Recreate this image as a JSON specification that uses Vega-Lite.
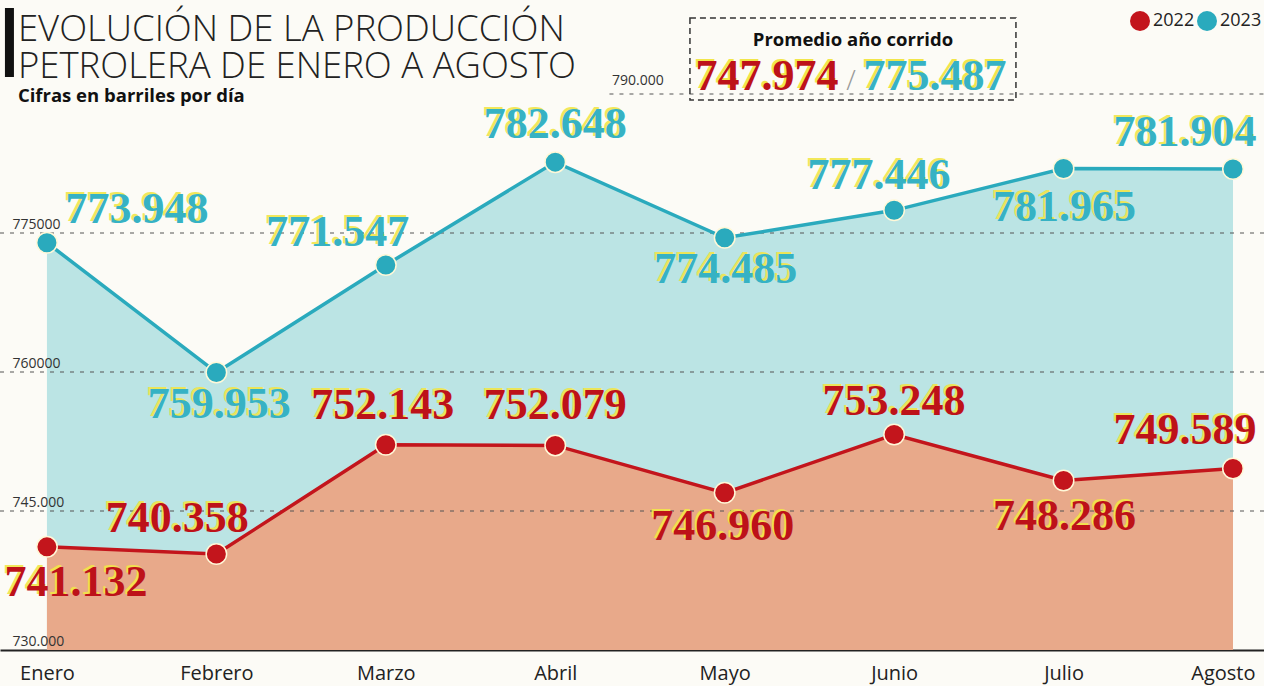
{
  "$schema": "https://vega.github.io/schema/vega-lite/v6.json",
  "width": 1264,
  "height": 650,
  "autosize": {"type": "none"},
  "padding": {"top": 0, "left": 0, "right": 0, "bottom": 36},
  "background": "#fcfbf6",
  "config": {
    "view": {"stroke": null},
    "locale": {"number": {"decimal": ",", "thousands": ".", "grouping": [3], "currency": ["", ""]}},
    "font": "Open Sans"
  },
  "data": {
    "values": [
      {"mes": "Enero", "n": 0, "anio": "2022", "valor": 741132},
      {"mes": "Febrero", "n": 1, "anio": "2022", "valor": 740358},
      {"mes": "Marzo", "n": 2, "anio": "2022", "valor": 752143},
      {"mes": "Abril", "n": 3, "anio": "2022", "valor": 752079},
      {"mes": "Mayo", "n": 4, "anio": "2022", "valor": 746960},
      {"mes": "Junio", "n": 5, "anio": "2022", "valor": 753248},
      {"mes": "Julio", "n": 6, "anio": "2022", "valor": 748286},
      {"mes": "Agosto", "n": 7, "anio": "2022", "valor": 749589},
      {"mes": "Enero", "n": 0, "anio": "2023", "valor": 773948},
      {"mes": "Febrero", "n": 1, "anio": "2023", "valor": 759953},
      {"mes": "Marzo", "n": 2, "anio": "2023", "valor": 771547},
      {"mes": "Abril", "n": 3, "anio": "2023", "valor": 782648},
      {"mes": "Mayo", "n": 4, "anio": "2023", "valor": 774485},
      {"mes": "Junio", "n": 5, "anio": "2023", "valor": 777446},
      {"mes": "Julio", "n": 6, "anio": "2023", "valor": 781965},
      {"mes": "Agosto", "n": 7, "anio": "2023", "valor": 781904}
    ]
  },
  "encoding": {
    "x": {
      "field": "n", "type": "quantitative",
      "scale": {"domain": [-0.277, 7.183], "nice": false, "zero": false},
      "axis": {
        "title": null, "values": [0, 1, 2, 3, 4, 5, 6, 7],
        "labelExpr": "['Enero','Febrero','Marzo','Abril','Mayo','Junio','Julio','Agosto'][datum.value]",
        "grid": false, "ticks": false, "domainColor": "#222", "domainWidth": 2,
        "labelFont": "Open Sans", "labelFontSize": 20, "labelColor": "#222", "labelPadding": 13,
        "labelFlush": 40, "labelFlushOffset": 22
      }
    },
    "y": {
      "field": "valor", "type": "quantitative",
      "scale": {"domain": [730000, 800144], "nice": false, "zero": false},
      "axis": {
        "title": null, "values": [730000, 745000, 760000, 775000, 790000],
        "labelExpr": "datum.value==790000 ? '' : datum.value==775000 ? '775000' : datum.value==760000 ? '760000' : datum.value==745000 ? '745.000' : '730.000'",
        "grid": false, "ticks": false, "tickSize": 0, "domain": false, "zindex": 1,
        "labelAlign": "left", "labelBaseline": "bottom", "labelPadding": -12, "labelOffset": -2,
        "labelFont": "Open Sans", "labelFontSize": 14, "labelColor": "#333"
      }
    }
  },
  "layer": [
    {
      "transform": [{"filter": "datum.anio == '2023'"}],
      "mark": {"type": "area", "color": "#bbe4e4", "opacity": 1},
      "encoding": {"y2": {"datum": 730000}}
    },
    {
      "transform": [{"filter": "datum.anio == '2022'"}],
      "mark": {"type": "area", "color": "#e8a98a", "opacity": 1},
      "encoding": {"y2": {"datum": 730000}}
    },
    {
      "data": {"values": [{"g": 745000}, {"g": 760000}, {"g": 775000}]},
      "mark": {"type": "rule", "color": "#555", "strokeWidth": 1, "strokeDash": [4, 6]},
      "encoding": {"x": null, "y": {"field": "g", "type": "quantitative"}}
    },
    {
      "data": {"values": [{"g": 790000, "p": 3.32, "p2": 7.183}]},
      "mark": {"type": "rule", "color": "#555", "strokeWidth": 1, "strokeDash": [4, 6]},
      "encoding": {"x": {"field": "p", "type": "quantitative"}, "x2": {"field": "p2"}, "y": {"field": "g", "type": "quantitative"}}
    },
    {
      "mark": {"type": "line", "strokeWidth": 3.5},
      "encoding": {
        "color": {"field": "anio", "type": "nominal", "scale": {"domain": ["2022", "2023"], "range": ["#c3151c", "#2aaabd"]}}
      }
    },
    {
      "mark": {"type": "point", "filled": true, "size": 420, "opacity": 1, "stroke": "#fff8d8", "strokeWidth": 1.5},
      "encoding": {
        "color": {
          "field": "anio", "type": "nominal",
          "legend": {
            "orient": "none", "legendX": 1130, "legendY": 11, "direction": "horizontal", "title": null,
            "symbolSize": 400, "symbolType": "circle", "symbolStrokeWidth": 0, "labelFontSize": 18,
            "labelFont": "Open Sans", "labelColor": "#222", "columnPadding": 2, "labelOffset": 3
          }
        }
      }
    },
    {
      "mark": {
        "type": "text", "font": "Liberation Serif", "fontWeight": "bold", "fontSize": 44,
        "align": "center", "baseline": "middle", "color": "#f2e64a", "opacity": 0.9,
        "dx": {"expr": "datum.anio=='2022' ? [29,-39,-3,0,-2,0,1,-48][datum.n]-2 : [90,3,-48,0,1,-15,1,-48][datum.n]-2"},
        "dy": {"expr": "datum.anio=='2022' ? [36,-35,-39,-39,34,-33,36,-37][datum.n]-2 : [-33,33,-32,-37,32,-34,40,-36][datum.n]-2"}
      },
      "encoding": {"text": {"field": "valor", "type": "quantitative", "format": ",.0f"}}
    },
    {
      "transform": [{"filter": "datum.anio == '2022'"}],
      "mark": {
        "type": "text", "font": "Liberation Serif", "fontWeight": "bold", "fontSize": 44,
        "align": "center", "baseline": "middle", "color": "#bd1219",
        "dx": {"expr": "[29,-39,-3,0,-2,0,1,-48][datum.n]"},
        "dy": {"expr": "[36,-35,-39,-39,34,-33,36,-37][datum.n]"}
      },
      "encoding": {"text": {"field": "valor", "type": "quantitative", "format": ",.0f"}}
    },
    {
      "transform": [{"filter": "datum.anio == '2023'"}],
      "mark": {
        "type": "text", "font": "Liberation Serif", "fontWeight": "bold", "fontSize": 44,
        "align": "center", "baseline": "middle", "color": "#36b2c4",
        "dx": {"expr": "[90,3,-48,0,1,-15,1,-48][datum.n]"},
        "dy": {"expr": "[-33,33,-32,-37,32,-34,40,-36][datum.n]"}
      },
      "encoding": {"text": {"field": "valor", "type": "quantitative", "format": ",.0f"}}
    },
    {
      "data": {"values": [{"p": -0.2213, "a": 799281, "b": 791835}]},
      "mark": {"type": "rule", "color": "#111", "strokeWidth": 9},
      "encoding": {"x": {"field": "p", "type": "quantitative"}, "y": {"field": "a", "type": "quantitative"}, "y2": {"field": "b"}}
    },
    {
      "data": {"values": [{"p": -0.1712, "v": 795719}]},
      "mark": {
        "type": "text", "text": ["EVOLUCIÓN DE LA PRODUCCIÓN", "PETROLERA DE ENERO A AGOSTO"],
        "font": "Open Sans", "fontWeight": 300, "fontSize": 36.5, "lineHeight": 37,
        "align": "left", "baseline": "alphabetic", "color": "#222"
      },
      "encoding": {"x": {"field": "p", "type": "quantitative"}, "y": {"field": "v", "type": "quantitative"}}
    },
    {
      "data": {"values": [{"p": -0.1712, "v": 789137}]},
      "mark": {
        "type": "text", "text": "Cifras en barriles por día",
        "font": "Open Sans", "fontWeight": "bold", "fontSize": 18.5,
        "align": "left", "baseline": "alphabetic", "color": "#111"
      },
      "encoding": {"x": {"field": "p", "type": "quantitative"}, "y": {"field": "v", "type": "quantitative"}}
    },
    {
      "data": {"values": [{"p": 3.795, "p2": 5.719, "a": 798202, "b": 789353}]},
      "mark": {"type": "rect", "filled": false, "stroke": "#333", "strokeWidth": 1.5, "strokeDash": [6, 4]},
      "encoding": {"x": {"field": "p", "type": "quantitative"}, "x2": {"field": "p2"}, "y": {"field": "a", "type": "quantitative"}, "y2": {"field": "b"}}
    },
    {
      "data": {"values": [{"p": 4.757, "v": 795180}]},
      "mark": {
        "type": "text", "text": "Promedio año corrido",
        "font": "Open Sans", "fontWeight": "bold", "fontSize": 18.5,
        "align": "center", "baseline": "alphabetic", "color": "#111"
      },
      "encoding": {"x": {"field": "p", "type": "quantitative"}, "y": {"field": "v", "type": "quantitative"}}
    },
    {
      "data": {"values": [{"t": "747.974", "p": 4.25, "v": 790432}, {"t": "775.487", "p": 5.241, "v": 790432}]},
      "mark": {
        "type": "text", "font": "Liberation Serif", "fontWeight": "bold", "fontSize": 44,
        "align": "center", "baseline": "alphabetic", "color": "#f2e64a", "dx": -2, "dy": -2
      },
      "encoding": {"x": {"field": "p", "type": "quantitative"}, "y": {"field": "v", "type": "quantitative"}, "text": {"field": "t"}}
    },
    {
      "data": {"values": [{"t": "747.974", "p": 4.25, "v": 790432, "s": "2022"}, {"t": "775.487", "p": 5.241, "v": 790432, "s": "2023"}]},
      "mark": {
        "type": "text", "font": "Liberation Serif", "fontWeight": "bold", "fontSize": 44,
        "align": "center", "baseline": "alphabetic",
        "color": {"expr": "datum.s=='2022' ? '#bd1219' : '#36b2c4'"}
      },
      "encoding": {"x": {"field": "p", "type": "quantitative"}, "y": {"field": "v", "type": "quantitative"}, "text": {"field": "t"}}
    },
    {
      "data": {"values": [{"p": 4.745, "v": 790432}]},
      "mark": {
        "type": "text", "text": "/", "font": "Open Sans", "fontWeight": 300, "fontSize": 28,
        "align": "center", "baseline": "alphabetic", "color": "#999"
      },
      "encoding": {"x": {"field": "p", "type": "quantitative"}, "y": {"field": "v", "type": "quantitative"}}
    },
    {
      "data": {"values": [{"p": 3.335, "v": 790971}]},
      "mark": {
        "type": "text", "text": "790.000", "font": "Open Sans", "fontSize": 14,
        "align": "left", "baseline": "alphabetic", "color": "#333"
      },
      "encoding": {"x": {"field": "p", "type": "quantitative"}, "y": {"field": "v", "type": "quantitative"}}
    }
  ]
}
